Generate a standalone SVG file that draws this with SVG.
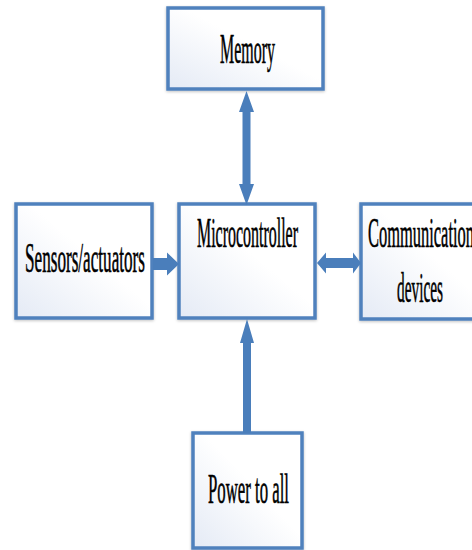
<svg xmlns="http://www.w3.org/2000/svg" width="472" height="550" viewBox="0 0 472 550">
<defs>
<linearGradient id="boxfill" x1="0" y1="1" x2="1" y2="0">
<stop offset="0" stop-color="#e4eaf5"/>
<stop offset="0.55" stop-color="#ffffff"/>
<stop offset="1" stop-color="#ffffff"/>
</linearGradient>
<filter id="shadow" x="-10%" y="-10%" width="120%" height="120%">
<feGaussianBlur in="SourceAlpha" stdDeviation="1.5"/>
<feOffset dx="0" dy="1" result="b"/>
<feComponentTransfer><feFuncA type="linear" slope="0.25"/></feComponentTransfer>
<feMerge><feMergeNode/><feMergeNode in="SourceGraphic"/></feMerge>
</filter>
</defs>
<style>
.box{fill:url(#boxfill);stroke:#4f81bd;stroke-width:3.5;filter:url(#shadow)}
.lbl{font-family:"Liberation Serif","Times New Roman",serif;font-size:42px;fill:#000;stroke:#000;stroke-width:0.6}
.arr{fill:#4a7ebb}
</style>
<rect x="0" y="0" width="472" height="550" fill="#ffffff"/>
<g id="memory">
<rect class="box" x="168" y="8" width="155" height="81"/>
<text class="lbl" x="220" y="63" textLength="55" lengthAdjust="spacingAndGlyphs">Memory</text>
</g>
<g id="sensors">
<rect class="box" x="16" y="204" width="136" height="114"/>
<text class="lbl" x="25" y="272" textLength="120" lengthAdjust="spacingAndGlyphs">Sensors/actuators</text>
</g>
<g id="microcontroller">
<rect class="box" x="179" y="204" width="136" height="114"/>
<text class="lbl" x="197" y="247" textLength="101" lengthAdjust="spacingAndGlyphs">Microcontroller</text>
</g>
<g id="communication">
<rect class="box" x="361" y="204" width="130" height="115"/>
<text class="lbl" x="368" y="247" textLength="106" lengthAdjust="spacingAndGlyphs">Communication</text>
<text class="lbl" x="397" y="302" textLength="46" lengthAdjust="spacingAndGlyphs">devices</text>
</g>
<g id="power">
<rect class="box" x="193" y="433" width="109" height="115"/>
<text class="lbl" x="208" y="503" textLength="81" lengthAdjust="spacingAndGlyphs">Power to all</text>
</g>
<g id="connectors">
<polygon class="arr" points="246.5,91 254,112 250.5,112 250.5,184 254,184 246.5,205 239,184 242.5,184 242.5,112 239,112"/>
<polygon class="arr" points="153,258 167,258 167,252.5 179,264 167,275.5 167,270 153,270"/>
<polygon class="arr" points="317,263 326,252.5 326,258 353,258 353,252.5 361,263 353,273.5 353,268 326,268 326,273.5"/>
<polygon class="arr" points="247,319 254,343 251,343 251,433 243,433 243,343 240,343"/>
</g>
</svg>
